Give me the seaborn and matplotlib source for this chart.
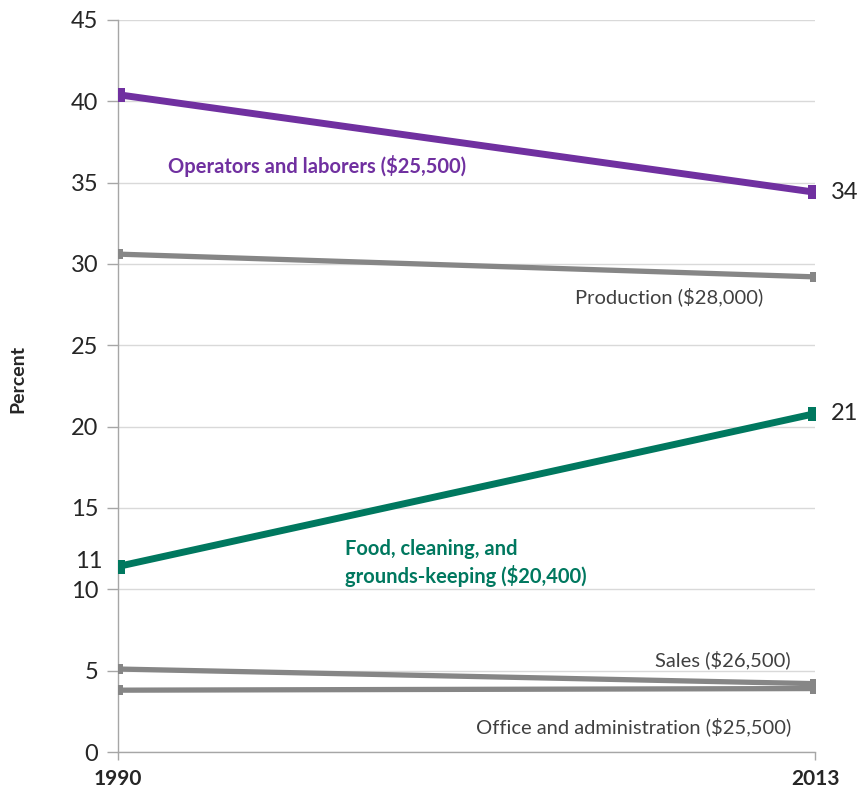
import matplotlib
matplotlib.use("Agg")
import matplotlib.pyplot as plt
import matplotlib.transforms as mtransforms
import seaborn as sns
import pandas as pd

# datos
years = [1990, 2013]
operators = [40.4, 34.4]
production = [30.6, 29.2]
food = [11.4, 20.8]
sales = [5.1, 4.2]
office = [3.8, 3.9]

series_names = ["Operators", "Production", "Food", "Sales", "Office"]
series_values = [operators, production, food, sales, office]
y_ticks = [0, 5, 10, 15, 20, 25, 30, 35, 40, 45]

PURPLE = "#7030A0"
TEAL = "#00785F"
GRAY = "#868686"

sns.set_theme(style="white")
plt.rcParams["font.family"] = ["Lato", "DejaVu Sans"]

df = pd.DataFrame({
    "year": [y for _ in series_names for y in years],
    "value": [v for vals in series_values for v in vals],
    "series": [n for n in series_names for _ in years],
})

fig = plt.figure(figsize=(8.6, 7.92), dpi=100)
ax = fig.add_axes([0.137, 0.0505, 0.811, 0.9245])

styles = {
    "Operators": (PURPLE, 5, 10),
    "Production": (GRAY, 3.8, 7),
    "Food": (TEAL, 5, 10),
    "Sales": (GRAY, 3.8, 7),
    "Office": (GRAY, 3.8, 7),
}
for name in series_names:
    color, lw, ms = styles[name]
    sns.lineplot(data=df[df["series"] == name], x="year", y="value", ax=ax,
                 color=color, linewidth=lw, marker="s", markersize=ms,
                 markeredgewidth=0, legend=False, zorder=3)

ax.set_xlim(1990, 2013)
ax.set_ylim(0, 45)
ax.set_xticks(years)
ax.set_xticklabels([str(y) for y in years], fontsize=15, fontweight="bold")
ax.set_yticks(y_ticks)
ax.set_yticklabels([str(t) for t in y_ticks], fontsize=17, color="#262626")
ax.grid(axis="y", color="#D9D9D9", linewidth=1)
ax.set_xlabel("")
ax.set_ylabel("Percent", fontsize=14, fontweight="bold", labelpad=32)
ax.yaxis.set_label_coords(-0.131, 0.51)

for s in ["top", "right"]:
    ax.spines[s].set_visible(False)
for s in ["left", "bottom"]:
    ax.spines[s].set_color("#A6A6A6")
    ax.spines[s].set_linewidth(1)

ax.tick_params(axis="y", which="major", left=True, length=8, width=1,
               color="#A6A6A6", pad=6)
ax.tick_params(axis="x", which="major", bottom=True, length=6, width=1,
               color="#A6A6A6", pad=6)

# valor inicial de Food junto al eje
trans = mtransforms.blended_transform_factory(ax.transAxes, ax.transData)
ax.text(-0.0215, food[0] + 0.3, f"{int(food[0])}", transform=trans, fontsize=17,
        color="#262626", va="center", ha="right", clip_on=False)

# etiquetas de series
ax.text(1991.65, 36.0, "Operators and laborers ($25,500)", color=PURPLE,
        fontsize=14.5, fontweight="bold", va="center", ha="left")
ax.text(2011.3, 28.0, "Production ($28,000)", color="#404040",
        fontsize=14.5, va="center", ha="right")
ax.text(1997.5, 11.6, "Food, cleaning, and\ngrounds-keeping ($20,400)", color=TEAL,
        fontsize=14.5, fontweight="bold", va="center", ha="left", linespacing=1.35)
ax.text(2012.2, 5.7, "Sales ($26,500)", color="#404040",
        fontsize=14.5, va="center", ha="right")
ax.text(2012.2, 1.55, "Office and administration ($25,500)", color="#404040",
        fontsize=14.5, va="center", ha="right")

# valores finales
ax.text(2013.5, operators[-1], f"{round(operators[-1])}", fontsize=17,
        color="#262626", va="center", ha="left", clip_on=False)
ax.text(2013.5, food[-1], f"{round(food[-1])}", fontsize=17,
        color="#262626", va="center", ha="left", clip_on=False)

fig.savefig("out.png", dpi=100)
